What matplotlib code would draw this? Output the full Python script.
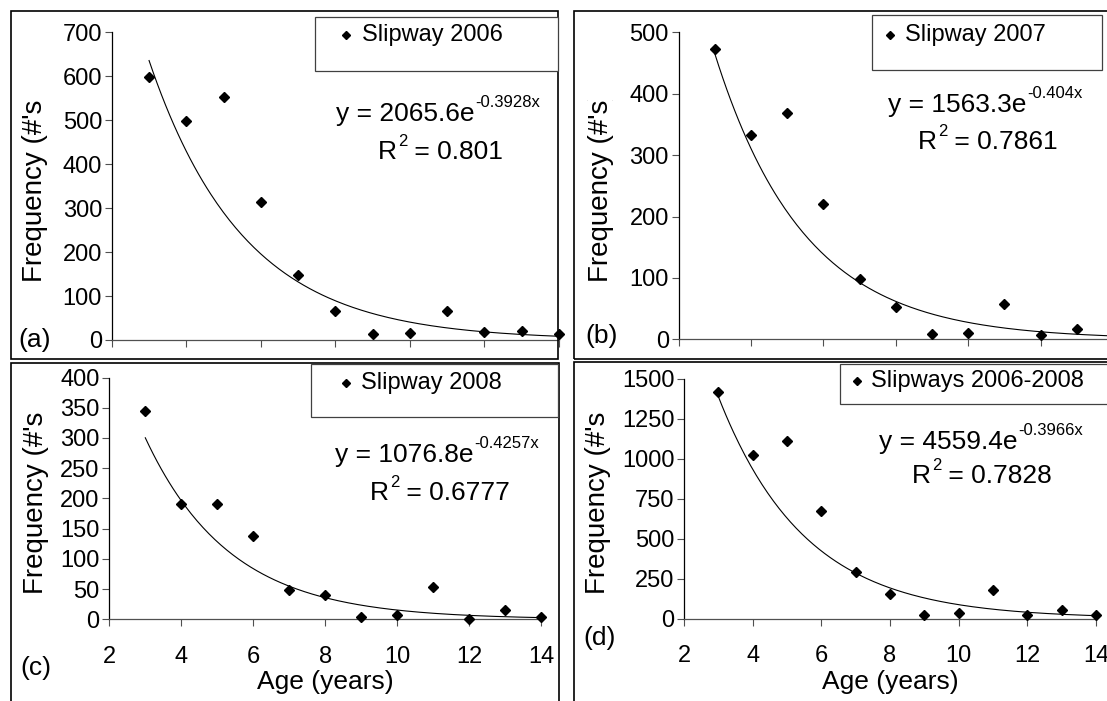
import numpy as np
import matplotlib.pyplot as plt
from matplotlib.patches import Rectangle
from matplotlib.lines import Line2D
from matplotlib.transforms import Bbox

plt.rcParams['font.family'] = ['Liberation Sans', 'DejaVu Sans']

W, H = 1107, 701

ages = [3, 4, 5, 6, 7, 8, 9, 10, 11, 12, 13, 14]
freq_2006 = [598, 498, 552, 313, 148, 65, 13, 17, 65, 18, 21, 13]
freq_2007 = [472, 333, 368, 220, 98, 52, 8, 11, 57, 7, 16, 7]
freq_2008 = [344, 190, 190, 138, 48, 41, 3, 7, 54, 0, 15, 3]
freq_all = [1417, 1019, 1108, 671, 292, 154, 25, 35, 177, 25, 52, 25]

series_names = ['Slipway 2006', 'Slipway 2007', 'Slipway 2008', 'Slipways 2006-2008']
fit_coef = [2065.6, 1563.3, 1076.8, 4559.4]
fit_rate = [-0.3928, -0.404, -0.4257, -0.3966]
fit_r2 = ['0.801', '0.7861', '0.6777', '0.7828']
panel_tags = ['(a)', '(b)', '(c)', '(d)']
y_max = [700, 500, 400, 1500]
y_step = [100, 100, 50, 250]
x_ticks = [2, 4, 6, 8, 10, 12, 14]

series = [freq_2006, freq_2007, freq_2008, freq_all]

# pixel layout of each chart block (x from left, y from top)
layout = [
    dict(ax=(111.8, 559, 32.3, 340), frame=(11, 11, 558, 359), leg=(315, 16.7, 558, 71),
         leg_mk=346, leg_tx=362, leg_y=35, eq=(336, 114), r2=(378, 152), tag=(35, 340),
         ylab_x=35, xlab=False),
    dict(ax=(678.6, 1113, 32.3, 339.3), frame=(574, 11, 1140, 359), leg=(872, 15, 1102, 70),
         leg_mk=890, leg_tx=905, leg_y=35, eq=(888, 105), r2=(918, 142), tag=(602, 336),
         ylab_x=601, xlab=False),
    dict(ax=(109.3, 541.3, 377.5, 619.3), frame=(11, 363, 559, 740), leg=(311, 364, 558, 417),
         leg_mk=346, leg_tx=361, leg_y=383, eq=(335, 455), r2=(370, 493), tag=(36, 668),
         ylab_x=36, xlab=True),
    dict(ax=(684, 1096, 378.5, 618.5), frame=(574, 362, 1140, 740), leg=(840, 364, 1140, 404),
         leg_mk=857, leg_tx=871, leg_y=381, eq=(879, 442), r2=(912, 476), tag=(600, 638),
         ylab_x=598, xlab=True),
]


def fx(x):
    return x / W


def fy(y):
    return 1 - y / H


fig = plt.figure(figsize=(W / 100, H / 100), dpi=100)
renderer = fig.canvas.get_renderer()

for i, lay in enumerate(layout):
    l, r, t, b = lay['ax']
    ax = fig.add_axes([fx(l), fy(b), (r - l) / W, (b - t) / H])
    ax.patch.set_visible(False)
    ax.set_xlim(2, 14)
    ax.set_ylim(0, y_max[i])
    ax.spines['top'].set_visible(False)
    ax.spines['right'].set_visible(False)
    ax.spines['left'].set_color('black')
    ax.spines['bottom'].set_color('#505050')
    ax.spines['left'].set_linewidth(0.9)
    ax.spines['bottom'].set_linewidth(0.9)
    ax.set_xticks(x_ticks)
    ax.set_yticks(np.arange(0, y_max[i] + 1, y_step[i]))
    ax.tick_params(direction='out', length=5, width=0.8, color='#505050', labelsize=17)
    ax.tick_params(axis='y', pad=2)
    ax.tick_params(axis='x', pad=14, labelbottom=lay['xlab'])

    ax.plot(ages, series[i], 'D', ms=5, color='black', clip_on=False, zorder=3)
    xs = np.linspace(ages[0], ages[-1], 200)
    ax.plot(xs, fit_coef[i] * np.exp(fit_rate[i] * xs), color='black', lw=0.8, clip_on=False)

    # chart border
    fl, ft, fr, fb = lay['frame']
    fig.add_artist(Rectangle((fx(fl), fy(fb)), (fr - fl) / W, (fb - ft) / H, fill=False,
                             ec='black', lw=1.2, transform=fig.transFigure))

    # legend box
    gl, gt, gr, gb = lay['leg']
    fig.add_artist(Rectangle((fx(gl), fy(gb)), (gr - gl) / W, (gb - gt) / H, fc='white',
                             ec='#404040', lw=0.9, transform=fig.transFigure))
    fig.add_artist(Line2D([fx(lay['leg_mk'])], [fy(lay['leg_y'])], marker='D', ms=4,
                          color='black', ls='none', transform=fig.transFigure))
    fig.text(fx(lay['leg_tx']), fy(lay['leg_y']), series_names[i], fontsize=17,
             ha='left', va='center')

    # trend equation and R squared, with raised exponents
    ex, ey = lay['eq']
    eq = fig.text(fx(ex), fy(ey), f'y = {fit_coef[i]}e', fontsize=19, ha='left', va='center')
    ax.annotate(f'{fit_rate[i]}x', xy=(1, 1), xycoords=eq, xytext=(0.5, 5),
                textcoords='offset points', fontsize=12, ha='left', va='top')
    rx, ry = lay['r2']
    rr = fig.text(fx(rx), fy(ry), 'R', fontsize=19, ha='left', va='center')
    sq = ax.annotate('2', xy=(1, 1), xycoords=rr, xytext=(0.5, 4),
                     textcoords='offset points', fontsize=12, ha='left', va='top')
    ax.annotate(f' = {fit_r2[i]}', xy=(1, 0), xycoords=(sq, rr), fontsize=19,
                ha='left', va='bottom')

    # panel tag
    tx, ty = lay['tag']
    fig.text(fx(tx), fy(ty), panel_tags[i], fontsize=19, ha='center', va='center')

    # y axis title, closing bracket hidden under the plot area
    mid = (t + b) / 2
    ylab = fig.text(fx(lay['ylab_x']), fy(mid), "Frequency (#'s)", fontsize=20,
                    rotation=90, ha='center', va='center')
    probe = fig.text(0, 0, "Frequency (#'s", fontsize=20)
    shown = probe.get_window_extent(renderer).width
    probe.remove()
    full = ylab.get_window_extent(renderer)
    ylab.set_clip_box(Bbox([[0, 0], [W, full.y0 + shown - 1]]))
    ylab.set_clip_on(True)

    if lay['xlab']:
        fig.text(fx((l + r) / 2), fy(682), 'Age (years)', fontsize=19, ha='center', va='center')

fig.savefig('out.png', dpi=100)
